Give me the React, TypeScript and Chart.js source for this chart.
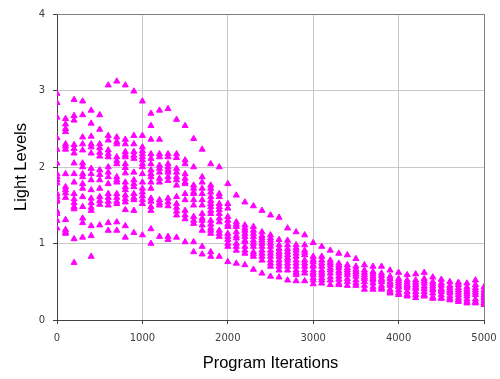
import React, { useEffect, useRef } from "react";
import { Chart, registerables } from "chart.js";

Chart.register(...registerables);

const xTicks = [0, 1000, 2000, 3000, 4000, 5000];
const yTicks = [0, 1, 2, 3, 4];

const iterations = [
  0, 100, 200, 300, 400, 500, 600, 700, 800, 900,
  1000, 1100, 1200, 1300, 1400, 1500, 1600, 1700, 1800, 1900,
  2000, 2100, 2200, 2300, 2400, 2500, 2600, 2700, 2800, 2900,
  3000, 3100, 3200, 3300, 3400, 3500, 3600, 3700, 3800, 3900,
  4000, 4100, 4200, 4300, 4400, 4500, 4600, 4700, 4800, 4900, 5000,
];

const lightLevels: number[][] = [
  [2.96, 2.84, 2.65, 2.38, 2.23, 2.05, 1.91, 1.87, 1.83, 1.79, 1.65, 1.61, 1.57, 1.55, 1.42, 1.39, 1.3, 1.2],
  [2.63, 2.56, 2.5, 2.46, 2.3, 2.27, 2.23, 1.91, 1.74, 1.7, 1.66, 1.6, 1.31, 1.18, 1.15, 1.13],
  [2.88, 2.67, 2.61, 2.29, 2.24, 2.18, 2.05, 1.91, 1.8, 1.65, 1.58, 1.53, 1.48, 1.45, 1.06, 0.75],
  [2.86, 2.68, 2.39, 2.3, 2.22, 2.05, 2.0, 1.91, 1.87, 1.78, 1.72, 1.61, 1.48, 1.33, 1.27, 1.08],
  [2.74, 2.57, 2.4, 2.3, 2.26, 2.18, 1.98, 1.91, 1.83, 1.7, 1.59, 1.53, 1.47, 1.43, 1.23, 1.1, 0.83],
  [2.68, 2.49, 2.3, 2.25, 2.19, 2.14, 1.96, 1.9, 1.83, 1.72, 1.61, 1.56, 1.51, 1.24],
  [3.07, 2.41, 2.35, 2.22, 2.17, 2.13, 2.0, 1.93, 1.87, 1.78, 1.65, 1.6, 1.55, 1.5, 1.27, 1.17],
  [3.12, 2.39, 2.33, 2.3, 2.13, 2.08, 2.04, 1.87, 1.83, 1.8, 1.65, 1.6, 1.55, 1.52, 1.28, 1.17],
  [3.07, 2.36, 2.3, 2.2, 2.16, 2.13, 2.04, 1.99, 1.92, 1.8, 1.74, 1.7, 1.63, 1.58, 1.54, 1.44, 1.23, 1.08],
  [2.99, 2.41, 2.3, 2.2, 2.15, 2.11, 1.93, 1.83, 1.78, 1.74, 1.65, 1.6, 1.57, 1.43, 1.14],
  [2.86, 2.41, 2.26, 2.21, 2.17, 2.13, 2.09, 2.04, 2.0, 1.91, 1.8, 1.72, 1.67, 1.62, 1.57, 1.52, 1.11],
  [2.7, 2.54, 2.36, 2.17, 2.11, 2.04, 1.96, 1.91, 1.87, 1.8, 1.72, 1.59, 1.55, 1.48, 1.43, 1.19, 1.0],
  [2.74, 2.36, 2.17, 2.13, 2.02, 1.98, 1.93, 1.85, 1.8, 1.57, 1.53, 1.5, 1.09],
  [2.76, 2.17, 2.13, 2.04, 2.0, 1.96, 1.93, 1.87, 1.82, 1.59, 1.54, 1.49, 1.09, 1.05],
  [2.62, 2.17, 2.12, 1.98, 1.93, 1.87, 1.83, 1.76, 1.61, 1.52, 1.47, 1.42, 1.37, 1.08],
  [2.54, 2.09, 2.04, 1.91, 1.85, 1.8, 1.78, 1.65, 1.57, 1.43, 1.37, 1.32, 1.02],
  [2.37, 2.0, 1.76, 1.72, 1.67, 1.65, 1.57, 1.5, 1.35, 1.3, 1.26, 1.02, 0.89],
  [2.23, 1.87, 1.8, 1.72, 1.65, 1.57, 1.5, 1.39, 1.33, 1.3, 1.24, 1.17, 0.96, 0.86],
  [2.04, 1.76, 1.72, 1.67, 1.61, 1.56, 1.52, 1.48, 1.43, 1.39, 1.3, 1.25, 1.2, 1.17, 1.13, 0.89, 0.83],
  [2.0, 1.65, 1.61, 1.52, 1.48, 1.44, 1.39, 1.33, 1.28, 1.17, 1.13, 1.09, 0.83],
  [1.78, 1.52, 1.46, 1.35, 1.3, 1.25, 1.22, 1.13, 1.09, 1.05, 1.0, 0.96, 0.76],
  [1.63, 1.28, 1.25, 1.22, 1.15, 1.1, 1.07, 1.0, 0.96, 0.91, 0.74],
  [1.54, 1.24, 1.2, 1.17, 1.13, 1.09, 1.04, 1.02, 0.96, 0.91, 0.87, 0.72],
  [1.49, 1.22, 1.17, 1.13, 1.09, 1.04, 1.0, 0.96, 0.89, 0.86, 0.83, 0.66],
  [1.43, 1.15, 1.1, 1.07, 1.04, 1.0, 0.96, 0.91, 0.87, 0.83, 0.78, 0.61],
  [1.37, 1.11, 1.07, 1.04, 1.0, 0.96, 0.91, 0.87, 0.83, 0.78, 0.74, 0.7, 0.57],
  [1.34, 1.05, 0.98, 0.93, 0.89, 0.86, 0.83, 0.78, 0.74, 0.7, 0.65, 0.56],
  [1.2, 1.04, 0.98, 0.93, 0.89, 0.85, 0.81, 0.78, 0.74, 0.7, 0.65, 0.52],
  [1.15, 0.98, 0.94, 0.91, 0.87, 0.83, 0.78, 0.74, 0.7, 0.65, 0.62, 0.59, 0.51],
  [1.11, 0.98, 0.91, 0.88, 0.85, 0.78, 0.74, 0.7, 0.65, 0.61, 0.51],
  [1.01, 0.83, 0.79, 0.76, 0.72, 0.7, 0.65, 0.62, 0.59, 0.55, 0.52, 0.47],
  [0.96, 0.83, 0.78, 0.74, 0.7, 0.65, 0.62, 0.59, 0.55, 0.52, 0.48],
  [0.91, 0.78, 0.75, 0.72, 0.68, 0.65, 0.61, 0.56, 0.52, 0.46],
  [0.87, 0.74, 0.71, 0.68, 0.64, 0.61, 0.57, 0.53, 0.48, 0.46],
  [0.85, 0.72, 0.68, 0.65, 0.62, 0.59, 0.54, 0.5, 0.45],
  [0.8, 0.7, 0.66, 0.63, 0.6, 0.57, 0.52, 0.48, 0.45],
  [0.72, 0.65, 0.62, 0.59, 0.56, 0.54, 0.5, 0.45, 0.4],
  [0.7, 0.63, 0.6, 0.57, 0.54, 0.52, 0.48, 0.43, 0.4],
  [0.7, 0.61, 0.58, 0.54, 0.52, 0.5, 0.45, 0.42, 0.4],
  [0.65, 0.57, 0.54, 0.5, 0.47, 0.45, 0.4, 0.37, 0.35],
  [0.62, 0.54, 0.51, 0.48, 0.45, 0.43, 0.39, 0.35, 0.33],
  [0.59, 0.52, 0.49, 0.46, 0.44, 0.42, 0.37, 0.33, 0.31],
  [0.6, 0.52, 0.49, 0.46, 0.43, 0.41, 0.37, 0.33, 0.29],
  [0.62, 0.54, 0.51, 0.48, 0.44, 0.41, 0.37, 0.33, 0.31],
  [0.56, 0.5, 0.47, 0.44, 0.41, 0.39, 0.35, 0.3, 0.28],
  [0.53, 0.48, 0.45, 0.41, 0.39, 0.37, 0.33, 0.29, 0.28],
  [0.5, 0.45, 0.42, 0.39, 0.37, 0.35, 0.31, 0.28, 0.26],
  [0.49, 0.46, 0.42, 0.39, 0.36, 0.33, 0.29, 0.26, 0.24],
  [0.48, 0.43, 0.4, 0.37, 0.34, 0.31, 0.27, 0.24, 0.22],
  [0.52, 0.46, 0.42, 0.39, 0.36, 0.33, 0.27, 0.24, 0.22],
  [0.43, 0.39, 0.36, 0.33, 0.3, 0.28, 0.25, 0.22, 0.2],
];

const frameBorder = {
  id: "frameBorder",
  afterDatasetsDraw(chart: any) {
    const { ctx, chartArea } = chart;
    ctx.save();
    ctx.strokeStyle = "#808080";
    ctx.lineWidth = 1;
    ctx.beginPath();
    ctx.moveTo(chartArea.left, chartArea.top + 0.5);
    ctx.lineTo(chartArea.right + 0.5, chartArea.top + 0.5);
    ctx.lineTo(chartArea.right + 0.5, chartArea.bottom);
    ctx.stroke();
    ctx.restore();
  },
};

export default function App() {
  const canvasRef = useRef<HTMLCanvasElement | null>(null);

  useEffect(() => {
    if (!canvasRef.current) return;
    const points: { x: number; y: number }[] = [];
    iterations.forEach((it, i) => {
      (lightLevels[i] || []).forEach((v) => points.push({ x: it, y: v }));
    });

    const chart = new Chart(canvasRef.current, {
      type: "scatter",
      data: {
        datasets: [
          {
            label: "Light Levels",
            data: points,
            pointStyle: "triangle",
            pointRadius: 3.5,
            pointBackgroundColor: "#ff00ff",
            pointBorderColor: "#ff00ff",
            pointBorderWidth: 1,
          },
        ],
      },
      options: {
        animation: false,
        responsive: true,
        maintainAspectRatio: false,
        layout: { padding: { top: 13, right: 16, bottom: 0, left: 0 } },
        plugins: {
          legend: { display: false },
          tooltip: { enabled: false },
        },
        scales: {
          x: {
            type: "linear",
            min: 0,
            max: 5000,
            afterBuildTicks: (s: any) => {
              s.ticks = xTicks.map((v) => ({ value: v }));
            },
            afterFit: (s: any) => {
              s.height = 59;
              s.paddingRight = 0;
              s.paddingLeft = 0;
            },
            ticks: {
              color: "#404040",
              font: { family: "DejaVu Sans", size: 10 },
              padding: 8,
              maxRotation: 0,
              callback: (v: any) => String(v),
            },
            grid: {
              color: "#c8c8c8",
              tickColor: "#404040",
              tickLength: 4,
            },
            border: { color: "#404040", width: 1 },
            title: {
              display: true,
              text: "Program Iterations",
              color: "#000000",
              font: { family: "Liberation Sans", size: 16.5 },
              padding: { top: 4, bottom: 6 },
            },
          },
          y: {
            type: "linear",
            min: 0,
            max: 4,
            afterBuildTicks: (s: any) => {
              s.ticks = yTicks.map((v) => ({ value: v }));
            },
            afterFit: (s: any) => {
              s.width = 57;
            },
            ticks: {
              color: "#404040",
              font: { family: "DejaVu Sans", size: 10 },
              padding: 8,
              callback: (v: any) => String(v),
            },
            grid: {
              color: "#c8c8c8",
              tickColor: "#404040",
              tickLength: 4,
            },
            border: { color: "#404040", width: 1 },
            title: {
              display: true,
              text: "Light Levels",
              color: "#000000",
              font: { family: "Liberation Sans", size: 16.5 },
              padding: { top: 12, bottom: 4 },
            },
          },
        },
      },
      plugins: [frameBorder],
    });
    return () => chart.destroy();
  }, []);

  return (
    <div style={{ position: "fixed", left: 0, top: 0, width: 500, height: 379, background: "#ffffff" }}>
      <canvas ref={canvasRef} />
    </div>
  );
}
